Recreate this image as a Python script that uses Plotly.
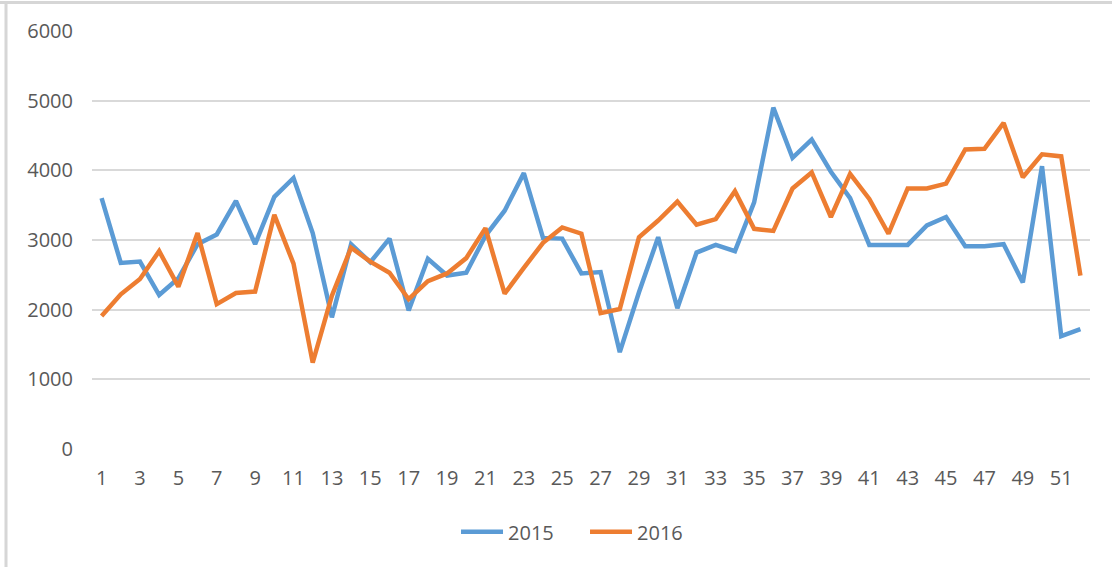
import plotly.graph_objects as go

weeks = list(range(1, 53))
tick_vals = list(range(1, 52, 2))
tick_text = [str(v) for v in tick_vals]
y_ticks = [0, 1000, 2000, 3000, 4000, 5000, 6000]

sales_2015 = [3600, 2670, 2690, 2210, 2450, 2940, 3080, 3560, 2940, 3620,
              3890, 3100, 1890, 2940, 2680, 3020, 1990, 2730, 2490, 2530,
              3060, 3420, 3960, 3030, 3020, 2520, 2540, 1390, 2250, 3040,
              2020, 2820, 2930, 2840, 3540, 4900, 4180, 4440, 3980, 3600,
              2930, 2930, 2930, 3210, 3330, 2910, 2910, 2940, 2390, 4060,
              1620, 1720]
sales_2016 = [1910, 2220, 2440, 2840, 2330, 3100, 2080, 2240, 2260, 3360,
              2660, 1240, 2200, 2890, 2690, 2530, 2150, 2410, 2520, 2740,
              3170, 2230, 2600, 2960, 3180, 3090, 1950, 2010, 3040, 3280,
              3550, 3220, 3300, 3700, 3160, 3130, 3740, 3970, 3330, 3950,
              3590, 3090, 3740, 3740, 3810, 4300, 4310, 4680, 3900, 4230,
              4200, 2490]

FONT = "Open Sans"
TXT = "#595959"

fig = go.Figure()
fig.add_trace(go.Scatter(x=weeks, y=sales_2015, mode="lines", name="2015",
                         line=dict(color="#5B9BD5", width=4.5)))
fig.add_trace(go.Scatter(x=weeks, y=sales_2016, mode="lines", name="2016",
                         line=dict(color="#ED7D31", width=4.5)))

fig.update_layout(
    width=1112, height=567,
    margin=dict(l=92, r=22, t=31, b=118, pad=0),
    paper_bgcolor="white", plot_bgcolor="white",
    font=dict(family=FONT, size=20, color=TXT),
    showlegend=True,
    legend=dict(orientation="h", x=0.494, xanchor="center", y=-0.198, yanchor="middle",
                itemwidth=42, entrywidth=72,
                font=dict(family=FONT, size=20, color=TXT), bgcolor="rgba(0,0,0,0)"),
    xaxis=dict(range=[0.5, 52.5], tickmode="array", tickvals=tick_vals, ticktext=tick_text,
               showgrid=False, zeroline=False, showline=False, ticks="",
               ticklabelstandoff=15, fixedrange=True),
    yaxis=dict(range=[0, 6000], tickmode="array", tickvals=y_ticks,
               showgrid=True, gridcolor="#D9D9D9", gridwidth=1.5,
               zeroline=False, showline=False, ticks="",
               ticklabelstandoff=18, fixedrange=True),
    shapes=[
        dict(type="line", xref="paper", yref="paper", x0=-0.1, x1=1.1,
             y0=(449 - 2.5) / 418, y1=(449 - 2.5) / 418,
             line=dict(color="#D6D6D6", width=3)),
        dict(type="line", xref="paper", yref="paper",
             x0=(6 - 92) / 998, x1=(6 - 92) / 998,
             y0=(449 - 3) / 418, y1=-0.3,
             line=dict(color="#D6D6D6", width=3)),
    ],
)

fig.write_html("out.html", config={"displayModeBar": False},
               post_script="document.body.style.margin='0';document.body.style.overflow='hidden';")
